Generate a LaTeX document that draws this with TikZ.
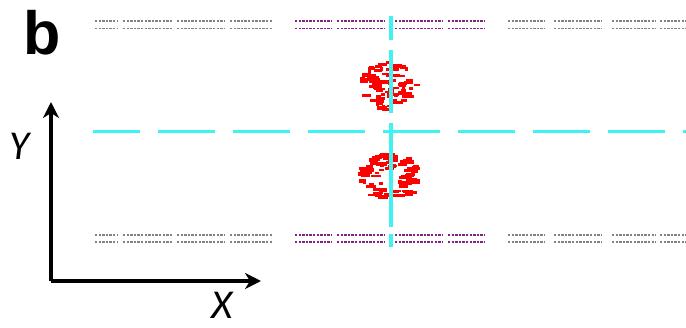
\documentclass[tikz,border=0pt]{standalone}
\usepackage{fontspec}
\setmainfont{Liberation Sans}
\newfontfamily\labfont{Carlito}
\usetikzlibrary{arrows.meta}
\definecolor{cyanl}{RGB}{64,242,242}
\definecolor{grayd}{RGB}{130,130,130}
\definecolor{purpd}{RGB}{130,35,130}
\definecolor{redb}{RGB}{255,0,0}
\tikzset{
  grayline/.style={draw=grayd,line width=1.8pt,dash pattern=on 2.4pt off 1.2pt},
  purpline/.style={draw=purpd,line width=1.8pt,dash pattern=on 2.4pt off 1.2pt},
  cyanline/.style={draw=cyanl,line width=3.2pt},
  axisline/.style={draw=black,line width=3.2pt,-{Stealth[length=16pt,width=16pt,inset=5pt]}},
  axislabel/.style={font=\labfont\itshape\fontsize{41}{41}\selectfont,inner sep=0pt},
}
\begin{document}
\begin{tikzpicture}[x=1pt,y=-1pt]
\useasboundingbox (0,0) rectangle (686,327);
% panel label
\node[anchor=base west,inner sep=0pt,font=\bfseries\fontsize{61}{61}\selectfont] (lab) at (23,54) {b};
% dotted guide lines
\foreach \yy in {21,28.5,235,242}{
  \foreach \a/\b in {95/118,123/172,177/225,230/272,508/545,554/602,612/656,660/686}{
    \draw[grayline] (\a,\yy) -- (\b,\yy);
  }
  \foreach \a/\b in {295/332,337/385,395/443,448/485}{
    \draw[purpline] (\a,\yy) -- (\b,\yy);
  }
}
% red blobs
\pgfmathsetseed{11}
\foreach \i in {1,...,85}{
  \pgfmathsetmacro\ang{360*rnd}
  \pgfmathsetmacro\rad{sqrt(rnd)}
  \pgfmathsetmacro\px{388+31*\rad*cos(\ang)}
  \pgfmathsetmacro\py{85+25*\rad*sin(\ang)*(1-0.3*\rad*abs(cos(\ang)))}
  \pgfmathsetmacro\w{1.5+4*rnd}
  \pgfmathsetmacro\hh{1.1+0.9*rnd}
  \fill[redb] (\px-\w,\py-\hh) rectangle (\px+\w,\py+\hh);
}
\fill[redb] (382,108) rectangle (392,111);
\foreach \i in {1,...,90}{
  \pgfmathsetmacro\ang{360*rnd}
  \pgfmathsetmacro\rad{0.35+0.65*sqrt(rnd)}
  \pgfmathsetmacro\px{390+31*\rad*cos(\ang)}
  \pgfmathsetmacro\py{177+23*\rad*sin(\ang)}
  \pgfmathsetmacro\w{1.5+4*rnd}
  \pgfmathsetmacro\hh{1.1+0.9*rnd}
  \fill[redb] (\px-\w,\py-\hh) rectangle (\px+\w,\py+\hh);
}
\fill[redb] (385,153) rectangle (395,156);
% cyan cross lines
\coordinate (h0) at (93,131.5);
\coordinate (h1) at (686,131.5);
\draw[cyanline,dash pattern=on 57pt off 18pt,dash phase=10pt] (h0) -- (h1);
\foreach \a/\b in {16/40,50/113,123/227,234/247}{
  \draw[cyanline] (391,\a) -- (391,\b);
}
% axes
\coordinate (o) at (51,281);
\coordinate (ytip) at (51,102);
\coordinate (xtip) at (261,281);
\draw[axisline] (o) -- (ytip);
\draw[axisline] (o) -- (xtip);
\node[axislabel,anchor=base west] (ylab) at (9,159) {Y};
\node[axislabel,anchor=base west] (xlab) at (211,318) {X};
\end{tikzpicture}
\end{document}
